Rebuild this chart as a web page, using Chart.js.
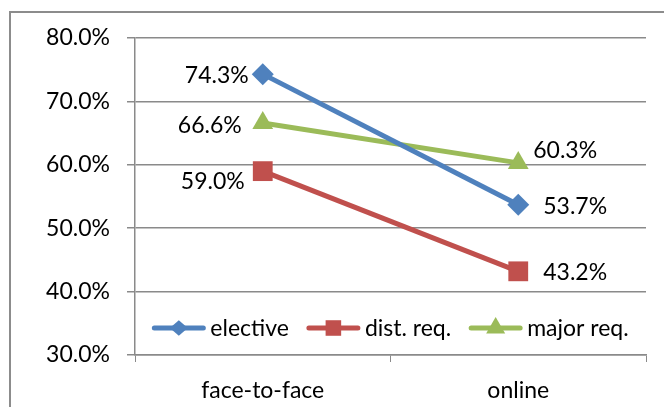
<!DOCTYPE html>
<html>
<head>
<meta charset="utf-8">
<script src="https://cdn.jsdelivr.net/npm/chart.js@4/dist/chart.umd.min.js"></script>
<style>
  html, body { margin: 0; padding: 0; background: #fff; }
  #wrap { position: relative; width: 664px; height: 407px; }
</style>
</head>
<body>
<div id="wrap"><canvas id="c" width="664" height="407"></canvas></div>
<script>
// Course types compared across delivery modes (share, %)
const categories = ['face-to-face', 'online'];
const elective = [74.3, 53.7];
const distReq = [59.0, 43.2];
const majorReq = [66.6, 60.3];
const seriesNames = ['elective', 'dist. req.', 'major req.'];
const yTicks = [30, 40, 50, 60, 70, 80];

const FONT = 'Lato, "Open Sans", sans-serif';
const FONT_SIZE = 23;
const GRID = '#8a8a8a';

// Label placement per series: [dx, dy] for each category point
const labelOffsets = [
  [[-14, 1], [25, 2]],
  [[-18, 10], [25, 1]],
  [[-21, 3], [15, -12]]
];

function pct(v) { return v.toFixed(1) + '%'; }

// Outer frame of the chart object
const framePlugin = {
  id: 'frame',
  beforeDraw(chart) {
    const ctx = chart.ctx;
    ctx.save();
    ctx.fillStyle = '#fff';
    ctx.fillRect(0, 0, chart.width, chart.height);
    ctx.strokeStyle = '#8c8c8c';
    ctx.lineWidth = 2;
    ctx.beginPath();
    ctx.moveTo(10, chart.height + 2);
    ctx.lineTo(10, 12);
    ctx.lineTo(chart.width + 2, 12);
    ctx.stroke();
    ctx.restore();
  }
};

// Value labels next to each point
const valueLabels = {
  id: 'valueLabels',
  afterDatasetsDraw(chart) {
    const ctx = chart.ctx;
    ctx.save();
    ctx.font = FONT_SIZE + 'px ' + FONT;
    ctx.fillStyle = '#000';
    ctx.textBaseline = 'middle';
    chart.data.datasets.forEach((ds, di) => {
      const meta = chart.getDatasetMeta(di);
      meta.data.forEach((pt, i) => {
        const [dx, dy] = labelOffsets[di][i];
        ctx.textAlign = dx < 0 ? 'right' : 'left';
        ctx.fillText(pct(ds.data[i]), pt.x + dx, pt.y + dy);
      });
    });
    ctx.restore();
  }
};

function drawMarker(ctx, style, x, y, r, color) {
  ctx.fillStyle = color;
  ctx.beginPath();
  if (style === 'rectRot') {
    ctx.moveTo(x - r, y); ctx.lineTo(x, y - r * 0.85); ctx.lineTo(x + r, y); ctx.lineTo(x, y + r * 0.85);
  } else if (style === 'rect') {
    const s = r * Math.SQRT1_2;
    ctx.rect(x - s, y - s, 2 * s, 2 * s);
  } else {
    ctx.moveTo(x, y - r);
    ctx.lineTo(x + r * 0.866, y + r * 0.5);
    ctx.lineTo(x - r * 0.866, y + r * 0.5);
  }
  ctx.closePath();
  ctx.fill();
}

// Legend drawn inside the plot area, line + marker + text
const innerLegend = {
  id: 'innerLegend',
  afterDraw(chart) {
    const ctx = chart.ctx;
    const area = chart.chartArea;
    ctx.save();
    ctx.font = FONT_SIZE + 'px ' + FONT;
    const lineW = 53, gapAfterLine = 5, gapItems = 18;
    const items = chart.data.datasets.map(ds => ({
      ds, w: lineW + gapAfterLine + ctx.measureText(ds.label).width
    }));
    const total = items.reduce((s, it) => s + it.w, 0) + gapItems * (items.length - 1);
    let x = (area.left + area.right) / 2 - total / 2;
    const y = area.bottom - 27;
    items.forEach(it => {
      const ds = it.ds;
      ctx.strokeStyle = ds.borderColor;
      ctx.lineWidth = ds.borderWidth;
      ctx.lineCap = 'round';
      ctx.beginPath();
      ctx.moveTo(x + 2, y);
      ctx.lineTo(x + lineW - 2, y);
      ctx.stroke();
      drawMarker(ctx, ds.pointStyle, x + lineW / 2, y, ds.legendRadius, ds.borderColor);
      ctx.fillStyle = '#000';
      ctx.textAlign = 'left';
      ctx.textBaseline = 'middle';
      ctx.fillText(ds.label, x + lineW + gapAfterLine, y + 1);
      x += it.w + gapItems;
    });
    ctx.restore();
  }
};

const colors = ['#4F81BD', '#C0504D', '#9BBB59'];
const styles = ['rectRot', 'rect', 'triangle'];
const radii = [11, 14, 12];
const legendRadii = [9, 11, 11];
const seriesData = [elective, distReq, majorReq];

new Chart(document.getElementById('c'), {
  type: 'line',
  data: {
    labels: categories,
    datasets: seriesData.map((d, i) => ({
      label: seriesNames[i],
      data: d,
      borderColor: colors[i],
      backgroundColor: colors[i],
      borderWidth: 5,
      pointStyle: styles[i],
      pointRadius: radii[i],
      pointBorderWidth: 0,
      pointHoverRadius: radii[i],
      legendRadius: legendRadii[i],
      tension: 0
    }))
  },
  options: {
    responsive: false,
    animation: false,
    events: [],
    layout: { padding: { left: 0, right: 18, top: 38, bottom: 0 } },
    plugins: {
      legend: { display: false },
      tooltip: { enabled: false }
    },
    scales: {
      x: {
        type: 'category',
        offset: true,
        grid: { display: true, drawOnChartArea: false, drawTicks: true, tickLength: 7, color: GRID, offset: true },
        border: { display: true, color: GRID, width: 1.5 },
        ticks: { color: '#000', font: { family: FONT, size: FONT_SIZE }, padding: 15, maxRotation: 0 },
        afterFit(scale) { scale.height = 52; }
      },
      y: {
        min: 30,
        max: 80,
        afterBuildTicks(scale) { scale.ticks = yTicks.map(v => ({ value: v })); },
        grid: { color: GRID, lineWidth: 1.5, drawTicks: true, tickLength: 8 },
        border: { display: true, color: GRID, width: 1.5 },
        ticks: { color: '#000', font: { family: FONT, size: FONT_SIZE }, padding: 17, callback: v => pct(v) },
        afterFit(scale) { scale.width = 135; }
      }
    }
  },
  plugins: [framePlugin, valueLabels, innerLegend]
});
</script>
</body>
</html>
